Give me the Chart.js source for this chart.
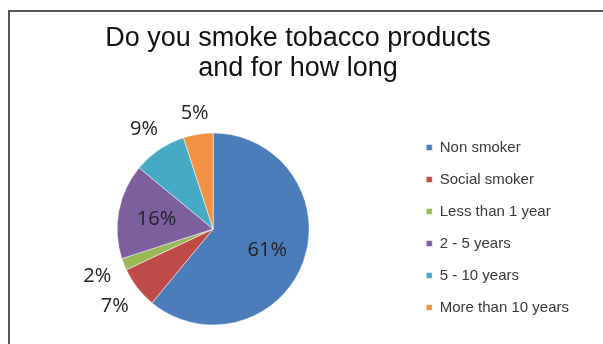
<!DOCTYPE html>
<html>
<head>
<meta charset="utf-8">
<script src="https://cdn.jsdelivr.net/npm/chart.js@4.4.0/dist/chart.umd.min.js"></script>
<style>
  html, body { margin: 0; padding: 0; background: #fff; }
</style>
</head>
<body>
<canvas id="smokeChart" width="603" height="344"></canvas>
<script>
// --- Survey data ---
const titleLines = ['Do you smoke tobacco products', 'and for how long'];
const categories = ['Non smoker', 'Social smoker', 'Less than 1 year', '2 - 5 years', '5 - 10 years', 'More than 10 years'];
const shares = [61, 7, 2, 16, 9, 5];
const sliceColors = ['#4a7dba', '#be4b48', '#98b954', '#7d5fa0', '#46aac5', '#f39244'];

// thin frame round the chart
const framePlugin = {
    id: 'frame',
    beforeDraw(chart) {
        const ctx = chart.ctx;
        ctx.save();
        ctx.strokeStyle = '#555';
        ctx.lineWidth = 2;
        ctx.strokeRect(9, 11, 700, 400);
        ctx.restore();
    }
};

// percent labels: big slices inside, small ones outside with a fixed gap
// between the rim and the nearest edge of the text box
const pctLabels = {
    id: 'pctLabels',
    afterDatasetsDraw(chart) {
        const ctx = chart.ctx;
        const meta = chart.getDatasetMeta(0);
        const size = 20;
        const gap = 13;
        ctx.save();
        ctx.font = size + 'px "Open Sans"';
        ctx.fillStyle = '#222';
        ctx.textAlign = 'center';
        ctx.textBaseline = 'alphabetic';
        meta.data.forEach((arc, i) => {
            const p = arc.getProps(['x', 'y', 'startAngle', 'endAngle', 'outerRadius'], true);
            const mid = (p.startAngle + p.endAngle) / 2;
            const ux = Math.cos(mid), uy = Math.sin(mid);
            const value = chart.data.datasets[0].data[i];
            const text = value + '%';
            const halfW = ctx.measureText(text).width / 2;
            const halfH = size * 0.36;
            let dist;
            if (value >= 15) {
                dist = p.outerRadius * 0.6;
            } else {
                dist = p.outerRadius + gap + Math.abs(ux) * halfW + Math.abs(uy) * halfH;
            }
            ctx.fillText(text, p.x + ux * dist, p.y + uy * dist + halfH);
        });
        ctx.restore();
    }
};

new Chart(document.getElementById('smokeChart'), {
    type: 'pie',
    data: {
        labels: categories,
        datasets: [{
            data: shares,
            backgroundColor: sliceColors,
            borderColor: 'rgba(255, 255, 255, 0.5)',
            borderWidth: 1
        }]
    },
    options: {
        responsive: false,
        animation: false,
        devicePixelRatio: 1,
        radius: 96,
        layout: { padding: { left: 17, right: 24, top: 0, bottom: 12 } },
        plugins: {
            title: {
                display: true,
                text: titleLines,
                color: '#111',
                font: { family: 'Liberation Sans', size: 27, weight: 'normal', lineHeight: 1.11 },
                padding: { top: 24, bottom: 42 }
            },
            legend: {
                position: 'right',
                align: 'end',
                fullSize: true,
                labels: {
                    boxWidth: 6,
                    boxHeight: 6,
                    padding: 17,
                    color: '#383838',
                    font: { family: 'Liberation Sans', size: 15 }
                }
            },
            tooltip: { enabled: false }
        }
    },
    plugins: [framePlugin, pctLabels]
});
</script>
</body>
</html>
